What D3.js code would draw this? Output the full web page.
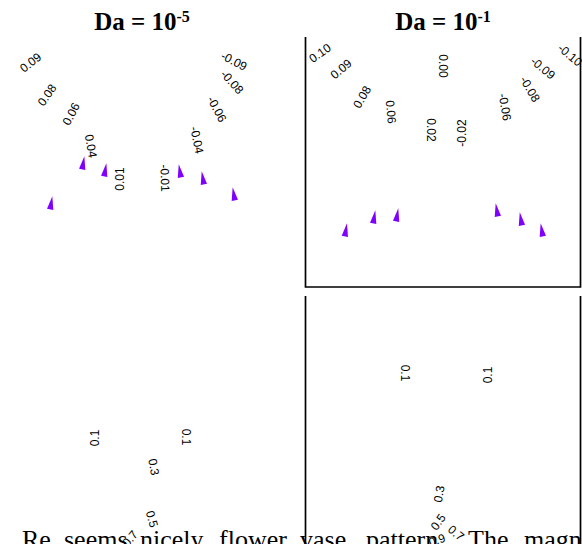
<!DOCTYPE html>
<html>
<head>
<meta charset="utf-8">
<script src="https://cdn.jsdelivr.net/npm/d3@7"></script>
<style>
  body { margin: 0; background: #fff; overflow: hidden; }
  svg { display: block; }
</style>
</head>
<body>
<div id="wrapper"></div>
<script>
// Darcy numbers shown above the two columns
const daExponents = ["-5", "-1"];

// contour labels: value, position in panel units (x -1..1, y 0..1 upward), label angle
const topLeftLabels = [
  { text: "0.09", x: -0.811, y: 0.898, angle: -38 },
  { text: "0.08", x: -0.691, y: 0.768, angle: -55 },
  { text: "0.06", x: -0.516, y: 0.692, angle: -62 },
  { text: "0.04", x: -0.371, y: 0.564, angle: 80 },
  { text: "0.01", x: -0.160, y: 0.432, angle: -90 },
  { text: "-0.01", x: 0.167, y: 0.436, angle: 88 },
  { text: "-0.04", x: 0.400, y: 0.588, angle: 78 },
  { text: "-0.06", x: 0.545, y: 0.712, angle: 62 },
  { text: "-0.08", x: 0.655, y: 0.820, angle: 48 },
  { text: "-0.09", x: 0.669, y: 0.904, angle: 27 }
];
const topRightLabels = [
  { text: "0.10", x: -0.895, y: 0.936, angle: -35 },
  { text: "0.09", x: -0.742, y: 0.872, angle: -40 },
  { text: "0.08", x: -0.589, y: 0.760, angle: -60 },
  { text: "0.06", x: -0.378, y: 0.700, angle: 85 },
  { text: "0.02", x: -0.087, y: 0.628, angle: 90 },
  { text: "0.00", x: 0.000, y: 0.884, angle: 90 },
  { text: "-0.02", x: 0.138, y: 0.616, angle: -90 },
  { text: "-0.06", x: 0.451, y: 0.720, angle: 80 },
  { text: "-0.08", x: 0.633, y: 0.792, angle: 60 },
  { text: "-0.09", x: 0.727, y: 0.876, angle: 40 },
  { text: "-0.10", x: 0.924, y: 0.928, angle: 40 }
];
const bottomLeftLabels = [
  { text: "0.1", x: -0.342, y: 0.432, angle: -90 },
  { text: "0.1", x: 0.320, y: 0.436, angle: 90 },
  { text: "0.3", x: 0.087, y: 0.316, angle: 80 },
  { text: "0.5", x: 0.073, y: 0.108, angle: 75 },
  { text: "0.7", x: -0.087, y: 0.030, angle: -50 }
];
const bottomRightLabels = [
  { text: "0.1", x: -0.276, y: 0.692, angle: 90 },
  { text: "0.1", x: 0.327, y: 0.684, angle: -90 },
  { text: "0.3", x: -0.029, y: 0.208, angle: -80 },
  { text: "0.5", x: -0.036, y: 0.096, angle: -55 },
  { text: "0.9", x: -0.044, y: 0.024, angle: -20 },
  { text: "0.7", x: 0.095, y: 0.052, angle: 40 }
];

// arrow heads of the velocity field
const topLeftArrows = [
  { x: -0.669, y: 0.336 }, { x: -0.436, y: 0.496 }, { x: -0.276, y: 0.468 },
  { x: 0.284, y: 0.464 }, { x: 0.451, y: 0.436 }, { x: 0.676, y: 0.372 }
];
const topRightArrows = [
  { x: -0.715, y: 0.228 }, { x: -0.509, y: 0.280 }, { x: -0.342, y: 0.288 },
  { x: 0.400, y: 0.308 }, { x: 0.575, y: 0.272 }, { x: 0.727, y: 0.228 }
];

// the paragraph that runs under the figure
const paragraphWords = ["Re", "seems", "nicely", "flower", "vase", "pattern.", "The", "magnitude"];
const wordStarts = [22, 64, 140, 219, 300, 366, 468, 524];

const dimensions = {
  width: 582,
  height: 544,
  colCenters: [142, 443],
  panelHalfWidth: 137.5,
  rows: [{ top: 37, bottom: 287 }, { top: 296, bottom: 546 }]
};

const wrapper = d3.select("#wrapper")
  .append("svg")
  .attr("width", dimensions.width)
  .attr("height", dimensions.height);

// paragraph text sits underneath the plot
wrapper.append("g")
  .selectAll("text")
  .data(paragraphWords)
  .join("text")
  .attr("x", (d, i) => wordStarts[i])
  .attr("y", 548)
  .attr("font-family", "'Liberation Serif', 'Times New Roman', serif")
  .attr("font-size", 26)
  .attr("fill", "black")
  .text(d => d);

// titles
wrapper.append("g")
  .selectAll("text")
  .data(daExponents)
  .join("text")
  .attr("x", (d, i) => dimensions.colCenters[i])
  .attr("y", 30)
  .attr("text-anchor", "middle")
  .attr("font-family", "'Liberation Serif', 'Times New Roman', serif")
  .attr("font-weight", "bold")
  .attr("font-size", 25)
  .each(function (d) {
    const t = d3.select(this);
    t.append("tspan").text("Da = 10");
    t.append("tspan").attr("dy", -8).attr("font-size", 16).text(d);
  });

function makeScales(col, row) {
  const cx = dimensions.colCenters[col];
  const r = dimensions.rows[row];
  const x = d3.scaleLinear().domain([-1, 1]).range([cx - dimensions.panelHalfWidth, cx + dimensions.panelHalfWidth]);
  const y = d3.scaleLinear().domain([0, 1]).range([r.bottom, r.top]);
  return { x, y };
}

function drawPanel(col, row, labels, arrows, frame) {
  const { x, y } = makeScales(col, row);
  const g = wrapper.append("g");

  if (frame) {
    const [x0, x1] = x.range();
    const [yb, yt] = y.range();
    if (frame === "box") {
      g.append("path")
        .attr("d", d3.line()([[x0, yt], [x0, yb], [x1, yb], [x1, yt]]))
        .attr("fill", "none")
        .attr("stroke", "black")
        .attr("stroke-width", 1.7);
    } else {
      [x0, x1].forEach(xx => {
        g.append("line")
          .attr("x1", xx).attr("x2", xx)
          .attr("y1", yt).attr("y2", yb)
          .attr("stroke", "black")
          .attr("stroke-width", 1.7);
      });
    }
  }

  g.selectAll("text.lab")
    .data(labels)
    .join("text")
    .attr("class", "lab")
    .attr("transform", d => `translate(${x(d.x)},${y(d.y)}) rotate(${d.angle})`)
    .attr("text-anchor", "middle")
    .attr("dy", "0.35em")
    .attr("font-family", "'Liberation Sans', Arial, sans-serif")
    .attr("font-size", 12)
    .attr("fill", "black")
    .text(d => d.text);

  const headLeft = [[2.3, -6.7], [3.3, 7], [-3, 5.7]];
  const headRight = headLeft.map(p => [-p[0], p[1]]);
  g.selectAll("path.arrow")
    .data(arrows)
    .join("path")
    .attr("class", "arrow")
    .attr("transform", d => `translate(${x(d.x)},${y(d.y)})`)
    .attr("d", d => d3.line()(d.x < 0 ? headLeft : headRight) + "Z")
    .attr("fill", "#8000ff");
}

drawPanel(0, 0, topLeftLabels, topLeftArrows, null);
drawPanel(1, 0, topRightLabels, topRightArrows, "box");
drawPanel(0, 1, bottomLeftLabels, [], null);
drawPanel(1, 1, bottomRightLabels, [], "sides");
</script>
</body>
</html>
